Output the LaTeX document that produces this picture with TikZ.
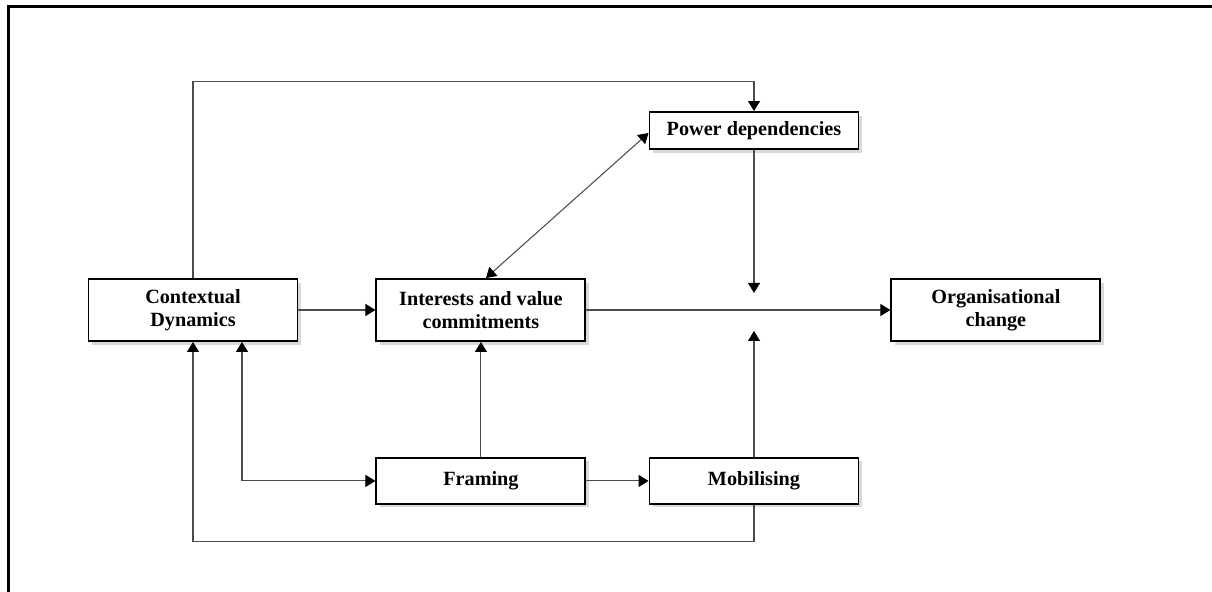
\documentclass[tikz,border=0pt]{standalone}
\usepackage{fontspec}
\setmainfont{Liberation Serif}
\usepackage{tikz}
\usetikzlibrary{arrows.meta,positioning,shadows}

\begin{document}
\begin{tikzpicture}
[>={Triangle[length=0.2cm,width=0.24cm,color=black]},
 box/.style={rectangle,draw=black,line width=1.1pt,fill=white,minimum width=4.18cm,minimum height=1.24cm,
   inner sep=0pt,align=center,font=\fontsize{11.5}{13}\selectfont\bfseries,
   drop shadow={opacity=0.3,shadow xshift=2pt,shadow yshift=-2pt}},
 link/.style={draw=black!70,line width=0.6pt}]
            \useasboundingbox (0,0) rectangle (24.24,-11.84);
            \draw[line width=0.06cm] (0.17,-11.9) -- (0.17,-0.13) -- (24.3,-0.13);
            \node[box] (cd) at (3.86,-6.2) {Contextual\\Dynamics};
            \node[box] (iv) [right=1.54cm of cd] {Interests and value\\commitments};
            \node[box] (oc) [right=6.08cm of iv] {Organisational\\change};
            \node[box,minimum height=0.74cm] (pd) at (15.08,-2.61) {Power dependencies};
            \node[box,minimum height=0.92cm] (fr) [below=2.3cm of iv] {Framing};
            \node[box,minimum height=0.92cm] (mo) at (pd |- fr) {Mobilising};
            \coordinate (dn) at ([yshift=-2.86cm]pd.south);
            \coordinate (up) at ([yshift=2.52cm]mo.north);
            \path[every edge/.append style={link,->}]
                           (cd.east) edge (iv.west)
                           (iv.east) edge (oc.west)
                           (fr.north) edge (iv.south)
                           (fr.east) edge (mo.west)
                           (pd.south) edge (dn)
                           (mo.north) edge (up);
            \draw[link,<->] ([xshift=0.1cm]iv.north) -- ([yshift=-0.05cm]pd.west);
            \draw[link,<->] ([xshift=0.98cm]cd.south) |- (fr.west);
            \draw[link,->] (cd.north) -- ++(0,3.94) -| (pd.north);
            \draw[link,->] (mo.south) -- ++(0,-0.74) -| (cd.south);
\end{tikzpicture}
\end{document}
